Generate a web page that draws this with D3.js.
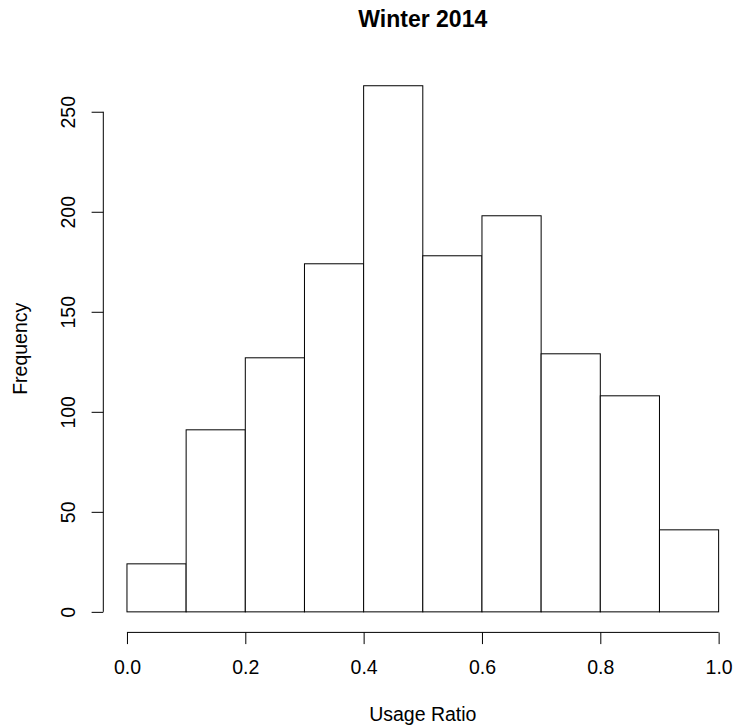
<!DOCTYPE html>
<html>
<head>
<meta charset="utf-8">
<script src="https://cdn.jsdelivr.net/npm/d3@7"></script>
<style>
  html, body { margin: 0; padding: 0; background: #ffffff; }
  svg { display: block; }
  text { font-family: "Liberation Sans", Arial, sans-serif; fill: #000; }
</style>
</head>
<body>
<div id="chart"></div>
<script>
// Histogram of usage ratio, winter 2014
const binEdges = [0.0, 0.1, 0.2, 0.3, 0.4, 0.5, 0.6, 0.7, 0.8, 0.9, 1.0];
const counts = [24, 91, 127, 174, 263, 178, 198, 129, 108, 41];
const xTicks = [0.0, 0.2, 0.4, 0.6, 0.8, 1.0];
const yTicks = [0, 50, 100, 150, 200, 250];
const titleText = "Winter 2014";
const xLabel = "Usage Ratio";
const yLabel = "Frequency";

const W = 743, H = 728;
const plot = { left: 103.3, right: 742.3, top: 64.7, bottom: 632.9 };

const svg = d3.select("#chart").append("svg")
  .attr("width", W).attr("height", H);

// R-style 4% padding on both axes
const xMin = binEdges[0], xMax = binEdges[binEdges.length - 1];
const xPad = (xMax - xMin) * 0.04;
const yMax = d3.max(counts);
const yPad = yMax * 0.04;

const x = d3.scaleLinear().domain([xMin - xPad, xMax + xPad]).range([plot.left, plot.right]);
const y = d3.scaleLinear().domain([-yPad, yMax + yPad]).range([plot.bottom, plot.top]);

const bins = counts.map((c, i) => ({ x0: binEdges[i], x1: binEdges[i + 1], count: c }));

// bars
svg.append("g").selectAll("rect").data(bins).join("rect")
  .attr("x", d => x(d.x0))
  .attr("y", d => y(d.count))
  .attr("width", d => x(d.x1) - x(d.x0))
  .attr("height", d => y(0) - y(d.count))
  .attr("fill", "#ffffff")
  .attr("stroke", "#000")
  .attr("stroke-width", 1);

const tickLen = 11.7;
const fontSize = 19.5;

// x axis
const xAxis = svg.append("g").attr("transform", `translate(0,${plot.bottom - 0.5})`)
  .call(d3.axisBottom(x).tickValues(xTicks).tickSize(tickLen).tickSizeOuter(0)
    .tickFormat(d3.format(".1f")));
xAxis.select(".domain").remove();
xAxis.append("line")
  .attr("x1", x(xTicks[0])).attr("x2", x(xTicks[xTicks.length - 1]))
  .attr("y1", 0).attr("y2", 0).attr("stroke", "#000");
xAxis.selectAll(".tick line").attr("stroke", "#000");
xAxis.selectAll(".tick text")
  .attr("y", null).attr("dy", null)
  .attr("transform", "translate(0,41.5)")
  .style("font-size", fontSize + "px")
  .style("font-family", "'Liberation Sans', Arial, sans-serif")
  .attr("fill", "#000");

// y axis
const yAxis = svg.append("g").attr("transform", `translate(${plot.left},0)`)
  .call(d3.axisLeft(y).tickValues(yTicks).tickSize(tickLen).tickSizeOuter(0)
    .tickFormat(d3.format("d")));
yAxis.select(".domain").remove();
yAxis.append("line")
  .attr("x1", 0).attr("x2", 0)
  .attr("y1", y(yTicks[0])).attr("y2", y(yTicks[yTicks.length - 1]))
  .attr("stroke", "#000");
yAxis.selectAll(".tick line").attr("stroke", "#000");
yAxis.selectAll(".tick text")
  .attr("x", null).attr("dy", null)
  .attr("text-anchor", "middle")
  .attr("transform", `translate(${75 - plot.left},0) rotate(-90)`)
  .style("font-size", fontSize + "px")
  .style("font-family", "'Liberation Sans', Arial, sans-serif")
  .attr("fill", "#000");

// title
svg.append("text")
  .attr("x", (plot.left + plot.right) / 2).attr("y", 27)
  .attr("text-anchor", "middle")
  .style("font-size", "23px").style("font-weight", "bold")
  .text(titleText);

// axis titles
svg.append("text")
  .attr("x", (plot.left + plot.right) / 2).attr("y", 721)
  .attr("text-anchor", "middle")
  .style("font-size", fontSize + "px")
  .text(xLabel);

svg.append("text")
  .attr("transform", `translate(26.7,${(plot.top + plot.bottom) / 2}) rotate(-90)`)
  .attr("text-anchor", "middle")
  .style("font-size", fontSize + "px")
  .text(yLabel);
</script>
</body>
</html>
